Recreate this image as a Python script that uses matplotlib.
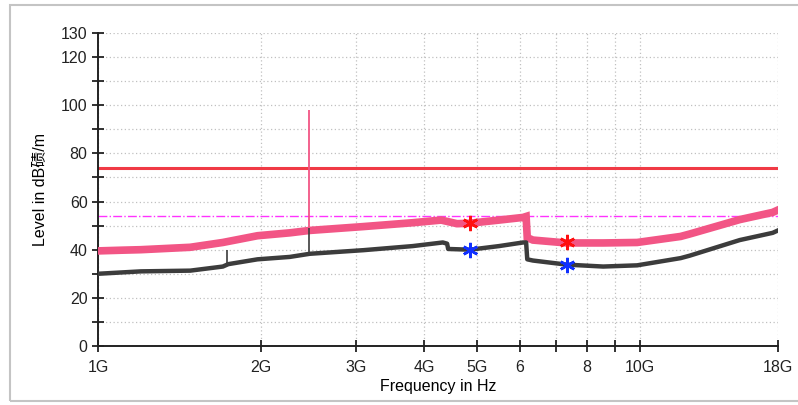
import numpy as np
import matplotlib
matplotlib.use('Agg')
import matplotlib.pyplot as plt
from matplotlib.patches import Rectangle

plt.rcParams['font.family'] = ['Liberation Sans', 'Noto Sans CJK SC', 'DejaVu Sans']

# peak trace (pink), frequencies in GHz
peak_f = [1.0, 1.11, 1.2, 1.48, 1.7, 1.97, 2.26, 2.46, 3.09, 3.81, 4.3, 4.6, 4.86,
          5.5, 6.09, 6.17, 6.2, 6.35, 7.33, 8.56, 9.89, 11.9, 12.36, 15.3, 17.6, 18.0]
peak_v = [39.5, 39.8, 40.0, 41.0, 43.0, 45.8, 47.0, 48.0, 49.6, 51.2, 52.3, 50.8, 51.0,
          52.3, 53.4, 53.8, 45.0, 44.0, 42.8, 42.8, 43.0, 45.5, 46.5, 52.5, 55.5, 56.5]

# average trace (dark grey)
avg_f = [1.0, 1.2, 1.48, 1.7, 1.74, 1.97, 2.26, 2.46, 3.09, 3.81, 4.33, 4.41, 4.43,
         4.86, 5.5, 6.09, 6.17, 6.2, 6.35, 7.33, 8.56, 9.89, 11.9, 12.36, 15.3, 17.6, 18.0]
avg_v = [30.0, 31.0, 31.3, 33.0, 34.0, 36.0, 37.0, 38.3, 39.8, 41.5, 43.0, 42.5, 40.3,
         40.0, 41.5, 43.0, 43.0, 36.0, 35.5, 33.8, 33.0, 33.5, 36.5, 37.5, 44.0, 47.0, 48.0]

# narrow spikes: freq, base, top
peak_spike = (2.45, 48.0, 98.0)
avg_spikes = [(1.73, 34.0, 40.0), (2.45, 38.3, 49.0)]

# markers
mark_f = [4.86, 7.33]
mark_peak = [51.0, 43.0]
mark_avg = [40.0, 33.5]

limit_line = 74
limit_avg = 54

xticks = [1, 2, 3, 4, 5, 6, 7, 8, 9, 10, 18]
xlabels = ['1G', '2G', '3G', '4G', '5G', '6', '', '8', '', '10G', '18G']
yticks = list(range(0, 131, 10))
ylabels = ['0', '', '20', '', '40', '', '60', '', '80', '', '100', '', '120', '130']

pink = '#f25585'
grey = '#3c3c3c'

fig = plt.figure(figsize=(7.98, 4.05), dpi=100)
ax = fig.add_axes([98/798, 1-346/405, 680/798, 313/405])

ax.set_xscale('log')
ax.set_xlim(1e9, 18e9)
ax.set_ylim(0, 130)

ax.plot(np.array(peak_f)*1e9, peak_v, color=pink, lw=5.5, solid_joinstyle='miter', zorder=3)
ax.vlines(peak_spike[0]*1e9, peak_spike[1], peak_spike[2], color=pink, lw=1.3, zorder=3)
ax.plot(np.array(avg_f)*1e9, avg_v, color=grey, lw=3.2, zorder=4)
for f, b, t in avg_spikes:
    ax.vlines(f*1e9, b, t, color=grey, lw=1.2, zorder=4)

ax.axhline(limit_line, color='#f03a45', lw=2.2, zorder=2)
ax.axhline(limit_avg, color='#ff33ff', lw=1.0, ls='-.', zorder=2)

ax.plot(np.array(mark_f)*1e9, mark_peak, ls='none', marker=(6, 2, 0), ms=11,
        mec='#ff1010', mew=1.8, zorder=5)
ax.plot(np.array(mark_f)*1e9, mark_avg, ls='none', marker=(6, 2, 0), ms=11,
        mec='#1030ff', mew=1.8, zorder=5)

ax.set_xticks([x*1e9 for x in xticks])
ax.set_xticklabels(xlabels)
ax.xaxis.set_minor_locator(matplotlib.ticker.NullLocator())
ax.set_yticks(yticks)
ax.set_yticklabels(ylabels)
ax.tick_params(direction='inout', length=8, width=1.3, labelsize=11.5, colors='#222222')
ax.tick_params(axis='x', pad=6)

ax.grid(True, color='#c0c0c0', ls=(0, (1, 2)), lw=0.9)
for s in ['top', 'right']:
    ax.spines[s].set_visible(False)
for s in ['left', 'bottom']:
    ax.spines[s].set_linewidth(1.4)
    ax.spines[s].set_color('#222222')

ax.set_xlabel('Frequency in Hz', fontsize=11.5, labelpad=3)
ax.set_ylabel('Level in dB碛/m', fontsize=11.5)
ax.yaxis.set_label_coords(-0.075, 0.5)

fig.patches.append(Rectangle((10/798, 1-401/405), 790/798, 396/405, transform=fig.transFigure,
                             fill=False, ec='#c4c4c4', lw=1.5))

fig.savefig('out.png', dpi=100)
